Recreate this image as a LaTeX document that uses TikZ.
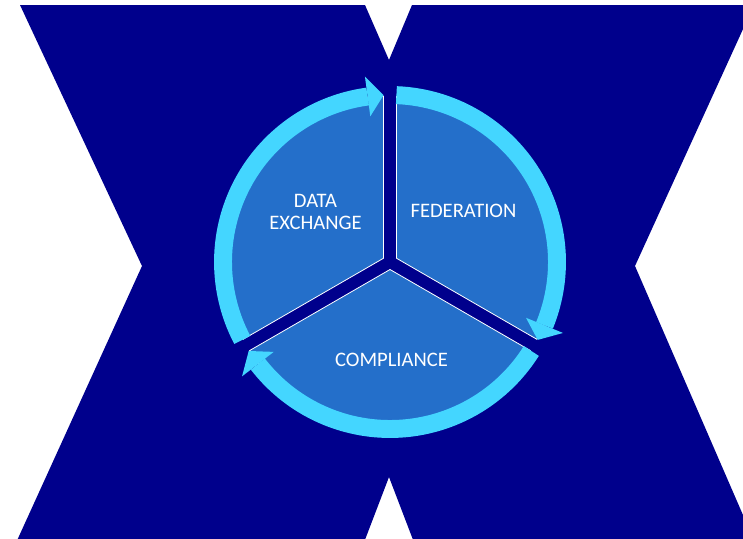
\documentclass[tikz,border=0pt]{standalone}
\usepackage{fontspec}
\setmainfont{Carlito}
\definecolor{xnavy}{RGB}{0,0,140}
\definecolor{pieblue}{RGB}{36,111,202}
\definecolor{ringcyan}{RGB}{68,214,255}

\begin{document}
\begin{tikzpicture}[scale=0.26458]
		\tikzstyle{every node}+=[inner sep=0pt, text=white, align=center, font=\fontsize{15.5}{17.25}\selectfont]
		\tikzstyle{piece}=[draw=white, line width=0.6pt, fill=pieblue]
		\tikzstyle{ring}=[ringcyan, line width=13.5pt]
		\useasboundingbox (0,0) rectangle (74.3,-53.8);
		\clip (0,0) rectangle (74.3,-53.8);
		% the big X behind
		\fill [xnavy] (2,-0.5) -- (36.5,-0.5) -- (38.9,-6) -- (41.2,-0.5) -- (75.4,-0.5) -- (63.5,-26.6) -- (75.6,-54.5) -- (41.5,-54.5) -- (38.9,-47.7) -- (36.3,-54.5) -- (1.5,-54.5) -- (14.2,-26.6) -- cycle;
		% three pieces of the pie
		\draw [piece] (39.65,-25.825) -- ++(90:16.2) arc (90:-30:16.2) -- cycle;
		\draw [piece] (38.35,-25.825) -- ++(210:16.2) arc (210:90:16.2) -- cycle;
		\draw [piece] (39,-26.95) -- ++(-30:16.2) arc (-30:-150:16.2) -- cycle;
		% arrows round the pie
		\draw [ring, shift={(39,-26.2)}] (87.8:16.7) arc (87.8:-22.3:16.7);
		\fill [ringcyan, shift={(39,-26.2)}] (-22.3:14.7) -- (-27.8:16.7) -- (-22.3:18.7) -- cycle;
		\draw [ring, shift={(39,-26.2)}] (-32.2:16.7) arc (-32.2:-142.3:16.7);
		\fill [ringcyan, shift={(39,-26.2)}] (-142.3:14.7) -- (-147.8:16.7) -- (-142.3:18.7) -- cycle;
		\draw [ring, shift={(39,-26.2)}] (207.8:16.7) arc (207.8:97.7:16.7);
		\fill [ringcyan, shift={(39,-26.2)}] (97.7:14.7) -- (92.2:16.7) -- (97.7:18.7) -- cycle;
		% labels
		\draw (31.55,-21.2) node (exch) {DATA\\EXCHANGE};
		\draw (46.35,-21.1) node (fed) {FEDERATION};
		\draw (39.15,-36) node (comp) {COMPLIANCE};
	\end{tikzpicture}
\end{document}
